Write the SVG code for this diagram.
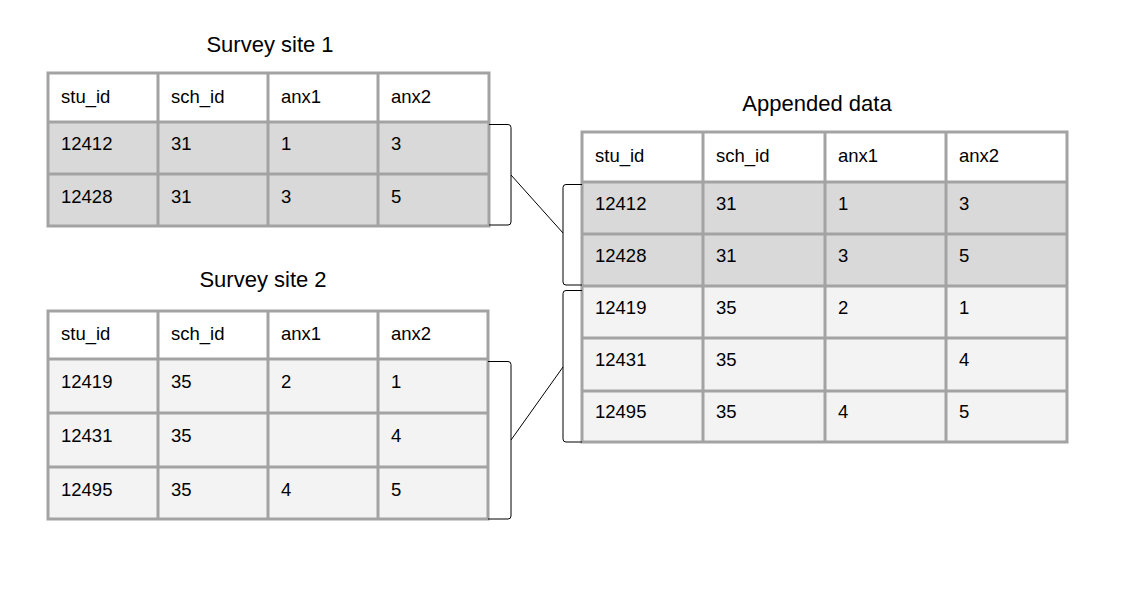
<svg xmlns="http://www.w3.org/2000/svg" width="1121" height="606" viewBox="0 0 1121 606">
<style>
.t{font-family:"Liberation Sans",Arial,sans-serif;font-size:18.5px;fill:#000}
.ti{font-family:"Liberation Sans",Arial,sans-serif;font-size:22px;fill:#000;text-anchor:middle}
.g{stroke:#a3a3a3;stroke-width:3;fill:none}
.h{fill:#ffffff}
.d{fill:#d9d9d9}
.l{fill:#f3f3f3}
.c{stroke:#000;stroke-width:1;fill:none}
</style>
<rect width="1121" height="606" fill="#fff"/>
<g id="survey-site-1">
<text class="ti" x="270" y="52">Survey site 1</text>
<rect class="h" x="48" y="73" width="441" height="49"/>
<rect class="d" x="48" y="122" width="441" height="104"/>
<path class="g" d="M48,73H489V226H48Z M48,122H489 M48,174H489 M158,73V226 M268,73V226 M378,73V226"/>
<text class="t" x="61" y="103">stu_id</text><text class="t" x="171" y="103">sch_id</text><text class="t" x="281" y="103">anx1</text><text class="t" x="391" y="103">anx2</text>
<text class="t" x="61" y="150">12412</text><text class="t" x="171" y="150">31</text><text class="t" x="281" y="150">1</text><text class="t" x="391" y="150">3</text>
<text class="t" x="61" y="203">12428</text><text class="t" x="171" y="203">31</text><text class="t" x="281" y="203">3</text><text class="t" x="391" y="203">5</text>
</g>
<g id="survey-site-2">
<text class="ti" x="263" y="287">Survey site 2</text>
<rect class="h" x="48" y="311" width="440" height="48"/>
<rect class="l" x="48" y="359" width="440" height="160"/>
<path class="g" d="M48,311H488V519H48Z M48,359H488 M48,413H488 M48,467H488 M158,311V519 M268,311V519 M378,311V519"/>
<text class="t" x="61" y="340">stu_id</text><text class="t" x="171" y="340">sch_id</text><text class="t" x="281" y="340">anx1</text><text class="t" x="391" y="340">anx2</text>
<text class="t" x="61" y="388">12419</text><text class="t" x="171" y="388">35</text><text class="t" x="281" y="388">2</text><text class="t" x="391" y="388">1</text>
<text class="t" x="61" y="442">12431</text><text class="t" x="171" y="442">35</text><text class="t" x="391" y="442">4</text>
<text class="t" x="61" y="496">12495</text><text class="t" x="171" y="496">35</text><text class="t" x="281" y="496">4</text><text class="t" x="391" y="496">5</text>
</g>
<g id="appended-data">
<text class="ti" x="817" y="111">Appended data</text>
<rect class="h" x="582" y="132" width="485" height="50"/>
<rect class="d" x="582" y="182" width="485" height="104"/>
<rect class="l" x="582" y="286" width="485" height="156"/>
<path class="g" d="M582,132H1067V442H582Z M582,182H1067 M582,234H1067 M582,286H1067 M582,338H1067 M582,391H1067 M703,132V442 M825,132V442 M946,132V442"/>
<text class="t" x="595" y="162">stu_id</text><text class="t" x="716" y="162">sch_id</text><text class="t" x="838" y="162">anx1</text><text class="t" x="959" y="162">anx2</text>
<text class="t" x="595" y="210">12412</text><text class="t" x="716" y="210">31</text><text class="t" x="838" y="210">1</text><text class="t" x="959" y="210">3</text>
<text class="t" x="595" y="262">12428</text><text class="t" x="716" y="262">31</text><text class="t" x="838" y="262">3</text><text class="t" x="959" y="262">5</text>
<text class="t" x="595" y="314">12419</text><text class="t" x="716" y="314">35</text><text class="t" x="838" y="314">2</text><text class="t" x="959" y="314">1</text>
<text class="t" x="595" y="366">12431</text><text class="t" x="716" y="366">35</text><text class="t" x="959" y="366">4</text>
<text class="t" x="595" y="418">12495</text><text class="t" x="716" y="418">35</text><text class="t" x="838" y="418">4</text><text class="t" x="959" y="418">5</text>
</g>
<g id="connectors">
<path class="c" d="M489,124.5H508Q511,124.5 511,127.5V222Q511,225 508,225H489"/>
<path class="c" d="M582,184.5H566Q563,184.5 563,187.5V282Q563,285 566,285H582"/>
<path class="c" d="M582,290.5H566Q563,290.5 563,293.5V439Q563,442 566,442H582"/>
<path class="c" d="M488,361.5H508Q511,361.5 511,364.5V516Q511,519 508,519H488"/>
<line class="c" x1="511" y1="175" x2="563" y2="233"/>
<line class="c" x1="511" y1="440" x2="563" y2="367"/>
</g>
</svg>
